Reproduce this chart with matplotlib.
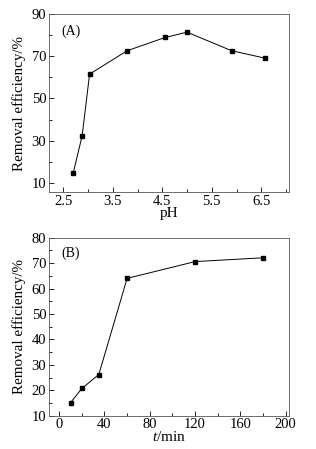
import matplotlib
matplotlib.use('Agg')
import matplotlib.pyplot as plt
from matplotlib.ticker import AutoMinorLocator

plt.rcParams['font.family'] = 'serif'
plt.rcParams['font.serif'] = ['Liberation Serif']
plt.rcParams['mathtext.fontset'] = 'custom'
plt.rcParams['mathtext.rm'] = 'Liberation Serif'
plt.rcParams['mathtext.it'] = 'Liberation Serif:italic'

# (A) removal efficiency vs pH
ph = [2.70, 2.88, 3.03, 3.79, 4.56, 5.00, 5.90, 6.57]
eff_ph = [14.7, 32.3, 61.5, 72.6, 78.9, 81.4, 72.6, 69.1]

# (B) removal efficiency vs time
t_min = [10, 20, 35, 60, 120, 180]
eff_t = [15.1, 20.7, 26.2, 64.0, 70.6, 72.1]

fig = plt.figure(figsize=(3.16, 4.49), dpi=100)
ax1 = fig.add_axes([49/316, 1 - 192.3/449, 240/316, 178.3/449])
ax2 = fig.add_axes([49/316, 1 - 415.7/449, 240/316, 178/449])

for ax in (ax1, ax2):
    ax.tick_params(which='both', direction='in', top=False, right=False,
                   labelsize=10.5, pad=2)
    ax.tick_params(which='major', length=3.5, width=0.6)
    ax.tick_params(which='minor', length=2, width=0.6)
    ax.xaxis.set_minor_locator(AutoMinorLocator(2))
    ax.yaxis.set_minor_locator(AutoMinorLocator(2))
    for s in ax.spines.values():
        s.set_linewidth(0.6)
        s.set_color('#555555')
    ax.set_ylabel('Removal efficiency/%', fontsize=10.8, labelpad=4)

ax1.plot(ph, eff_ph, '-s', color='black', lw=0.7, ms=3)
ax1.set_xlim(2.21, 7.06)
ax1.set_ylim(5.5, 90)
ax1.set_xticks([2.5, 3.5, 4.5, 5.5, 6.5])
ax1.set_yticks([10, 30, 50, 70, 90])
ax1.set_xlabel('pH', fontsize=11, labelpad=-0.5)
ax1.text(0.05, 0.94, '(A)', transform=ax1.transAxes, va='top', fontsize=10)

ax2.plot(t_min, eff_t, '-s', color='black', lw=0.7, ms=3)
ax2.set_xlim(-9, 203)
ax2.set_ylim(10, 80)
ax2.set_xticks([0, 40, 80, 120, 160, 200])
ax2.set_yticks(range(10, 81, 10))
ax2.set_xlabel('$\\it{t}$/min', fontsize=11, labelpad=-1)
ax2.text(0.05, 0.95, '(B)', transform=ax2.transAxes, va='top', fontsize=10)

fig.savefig('out.png', dpi=100)
